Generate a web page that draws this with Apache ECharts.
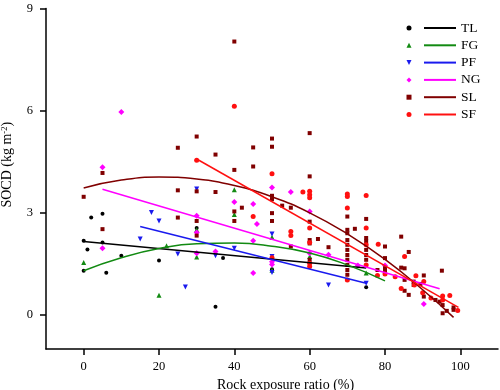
<!DOCTYPE html>
<html>
<head>
<meta charset="utf-8">
<script src="https://cdn.jsdelivr.net/npm/echarts@6/dist/echarts.min.js"></script>
<style>html,body{margin:0;padding:0;background:#fff}#c{width:500px;height:390px}</style>
</head>
<body>
<div id="c"></div>
<script>
// ---- data ----
const groupNames = ['TL', 'FG', 'PF', 'NG', 'SL', 'SF'];
const xTicks = [0, 20, 40, 60, 80, 100];
const yTicks = [0, 3, 6, 9];

const ptsTL = [[0,2.18],[0,1.30],[1,1.92],[2,2.86],[5,2.97],[5,2.13],[6,1.24],[10,1.74],[20,1.60],[30,2.55],[35,0.24],[37,1.67],[50,1.34],[75,0.81]];
const ptsFG = [[0,1.54],[20,0.58],[22,2.03],[30,2.50],[30,1.70],[40,3.68],[40,2.95],[50,2.28],[50,1.31],[60,1.72],[75,1.23]];
const ptsPF = [[15,2.23],[18,3.01],[20,2.76],[25,1.79],[27,0.82],[30,3.70],[35,1.74],[40,1.96],[50,2.38],[50,1.72],[50,1.25],[65,0.88],[75,0.93]];
const ptsNG = [[5,4.34],[5,1.96],[10,5.96],[30,2.91],[30,2.42],[30,1.81],[35,1.86],[40,3.32],[45,3.26],[45,2.18],[45,1.23],[46,2.67],[50,3.74],[50,1.56],[50,1.48],[55,3.61],[60,3.04],[60,1.81],[65,1.77],[72.8,1.45],[80,1.45],[90.3,0.32]];
const ptsSL = [[0,3.47],[5,4.17],[5,2.52],[25,4.91],[25,3.66],[25,2.86],[30,5.24],[30,3.63],[30,2.76],[30,2.33],[35,4.71],[35,3.61],[40,8.03],[40,4.26],[40,3.04],[40,2.76],[42,3.15],[45,4.92],[45,4.36],[50,5.18],[50,4.94],[50,3.50],[50,3.40],[50,2.99],[50,2.76],[52.7,3.21],[55,3.15],[55,2.01],[60,5.34],[60,4.07],[60,2.74],[60,2.20],[60,2.10],[60,1.62],[62.2,2.23],[65,1.99],[70,2.89],[70,2.50],[70,2.40],[70,2.20],[70,2.06],[70,1.91],[70,1.76],[70,1.62],[70,1.47],[70,1.32],[70,1.18],[72,2.53],[75,2.82],[75,2.26],[75,2.16],[75,1.91],[75,1.76],[75,1.62],[78,1.32],[80,2.01],[80,1.67],[80,1.37],[80,1.27],[84.3,2.30],[84.3,1.39],[85.2,1.37],[85.2,1.03],[85.2,0.71],[86.3,1.85],[86.3,0.59],[87.6,0.98],[87.6,0.88],[89.4,0.91],[90.3,1.16],[90.3,0.54],[93.4,0.44],[94.5,0.39],[95.1,1.30],[95.3,0.29],[95.3,0.05],[96.4,0.12],[98.2,0.22],[98.2,0.15]];
const ptsSF = [[30,4.54],[40,6.13],[45,2.89],[50,4.15],[50,1.68],[55,2.45],[55,2.33],[58.2,3.61],[60,3.63],[60,3.53],[60,3.44],[60,2.55],[60,2.13],[60,1.52],[60,1.42],[70,3.55],[70,3.48],[70,3.14],[70,1.03],[75,3.51],[75,2.55],[75,2.06],[75,1.47],[78.2,2.08],[78,1.16],[80,1.20],[82.7,1.12],[84.3,0.78],[85.2,1.72],[88.2,1.15],[87.8,0.88],[90.3,0.98],[90,0.65],[92.2,0.50],[95.3,0.56],[95.3,0.44],[97.2,0.57],[99.3,0.13]];

const fitTL = [[0,2.16],[75,1.38]];
const fitFG = [[0,1.30],[10,1.68],[20,1.95],[30,2.09],[40,2.11],[50,2.02],[60,1.82],[70,1.47],[80,1.00]];
const fitPF = [[15,2.60],[75,0.93]];
const fitNG = [[5,3.69],[94.5,0.77]];
const fitSL = [[0,3.73],[10,3.96],[20,4.05],[30,3.99],[40,3.80],[50,3.47],[60,3.00],[70,2.38],[80,1.63],[90,0.74],[98.2,-0.07]];
const fitSF = [[30,4.58],[99.5,0.22]];

// ---- styling ----
const FONT = 'Liberation Serif';
const colors = ['#000000', '#128a12', '#1a1aee', '#ff00ff', '#800000', '#ff1010'];
const symbols = ['circle', 'triangle', 'path://M0,0 L10,0 L5,10 Z', 'diamond', 'rect', 'circle'];
const symSizes = [4, 5, 5, 6, 4, 5];
const pts = [ptsTL, ptsFG, ptsPF, ptsNG, ptsSL, ptsSF];
const fits = [fitTL, fitFG, fitPF, fitNG, fitSL, fitSF];
const smoothFlags = [false, true, false, false, true, false];

const series = [];
groupNames.forEach((n, i) => {
  series.push({
    name: n, type: 'scatter', data: pts[i], symbol: symbols[i], symbolSize: symSizes[i],
    itemStyle: { color: colors[i], opacity: 1 }, z: 2, silent: true
  });
});
groupNames.forEach((n, i) => {
  series.push({
    name: n, type: 'line', data: fits[i], symbol: 'none', smooth: smoothFlags[i],
    lineStyle: { color: colors[i], width: 1.5 }, itemStyle: { color: colors[i] }, z: 3, silent: true
  });
});

const chart = echarts.init(document.getElementById('c'), null, { renderer: 'canvas' });
chart.setOption({
  animation: false,
  backgroundColor: '#fff',
  grid: { left: 46, right: 2, top: 8.5, bottom: 41, containLabel: false, outerBoundsMode: 'none' },
  legend: [
    {
      data: groupNames, orient: 'vertical', left: 406.5, top: 21, padding: 0,
      itemWidth: 5, itemHeight: 5, itemGap: 3.3,
      formatter: () => ' ',
      textStyle: { fontFamily: FONT, fontSize: 14, lineHeight: 14 }
    },
    {
      data: groupNames, orient: 'vertical', left: 424, top: 21, padding: 0,
      itemWidth: 32, itemHeight: 2, itemGap: 3.3, icon: 'rect',
      textStyle: { fontFamily: FONT, fontSize: 13.5, lineHeight: 14, color: '#000' }
    }
  ],
  xAxis: {
    type: 'value', min: -10, max: 110,
    axisLine: { show: true, onZero: false, lineStyle: { color: '#000', width: 1.5 } },
    axisTick: { show: true, customValues: xTicks, length: 6, inside: false, lineStyle: { color: '#000', width: 1.5 } },
    axisLabel: { show: true, customValues: xTicks, margin: 11, color: '#000', fontFamily: FONT, fontSize: 12.5 },
    splitLine: { show: false },
    name: 'Rock exposure ratio (%)', nameLocation: 'middle', nameGap: 23,
    nameTextStyle: { color: '#000', fontFamily: FONT, fontSize: 14, padding: [0, 0, 0, 27] }
  },
  yAxis: {
    type: 'value', min: -1, max: 9,
    axisLine: { show: true, onZero: false, lineStyle: { color: '#000', width: 1.5 } },
    axisTick: { show: true, customValues: yTicks, length: 6, inside: false, lineStyle: { color: '#000', width: 1.5 } },
    axisLabel: { show: true, customValues: yTicks, margin: 13, color: '#000', fontFamily: FONT, fontSize: 12.5 },
    splitLine: { show: false },
    name: 'SOCD (kg m{sup|-2})', nameLocation: 'middle', nameGap: 21,
    nameTextStyle: { color: '#000', fontFamily: FONT, fontSize: 14, padding: [0, 0, 0, 28],
      rich: { sup: { fontFamily: FONT, fontSize: 8.5, verticalAlign: 'top', lineHeight: 10, padding: [0, 0, 7, 0] } } }
  },
  series: series
});
</script>
</body>
</html>
